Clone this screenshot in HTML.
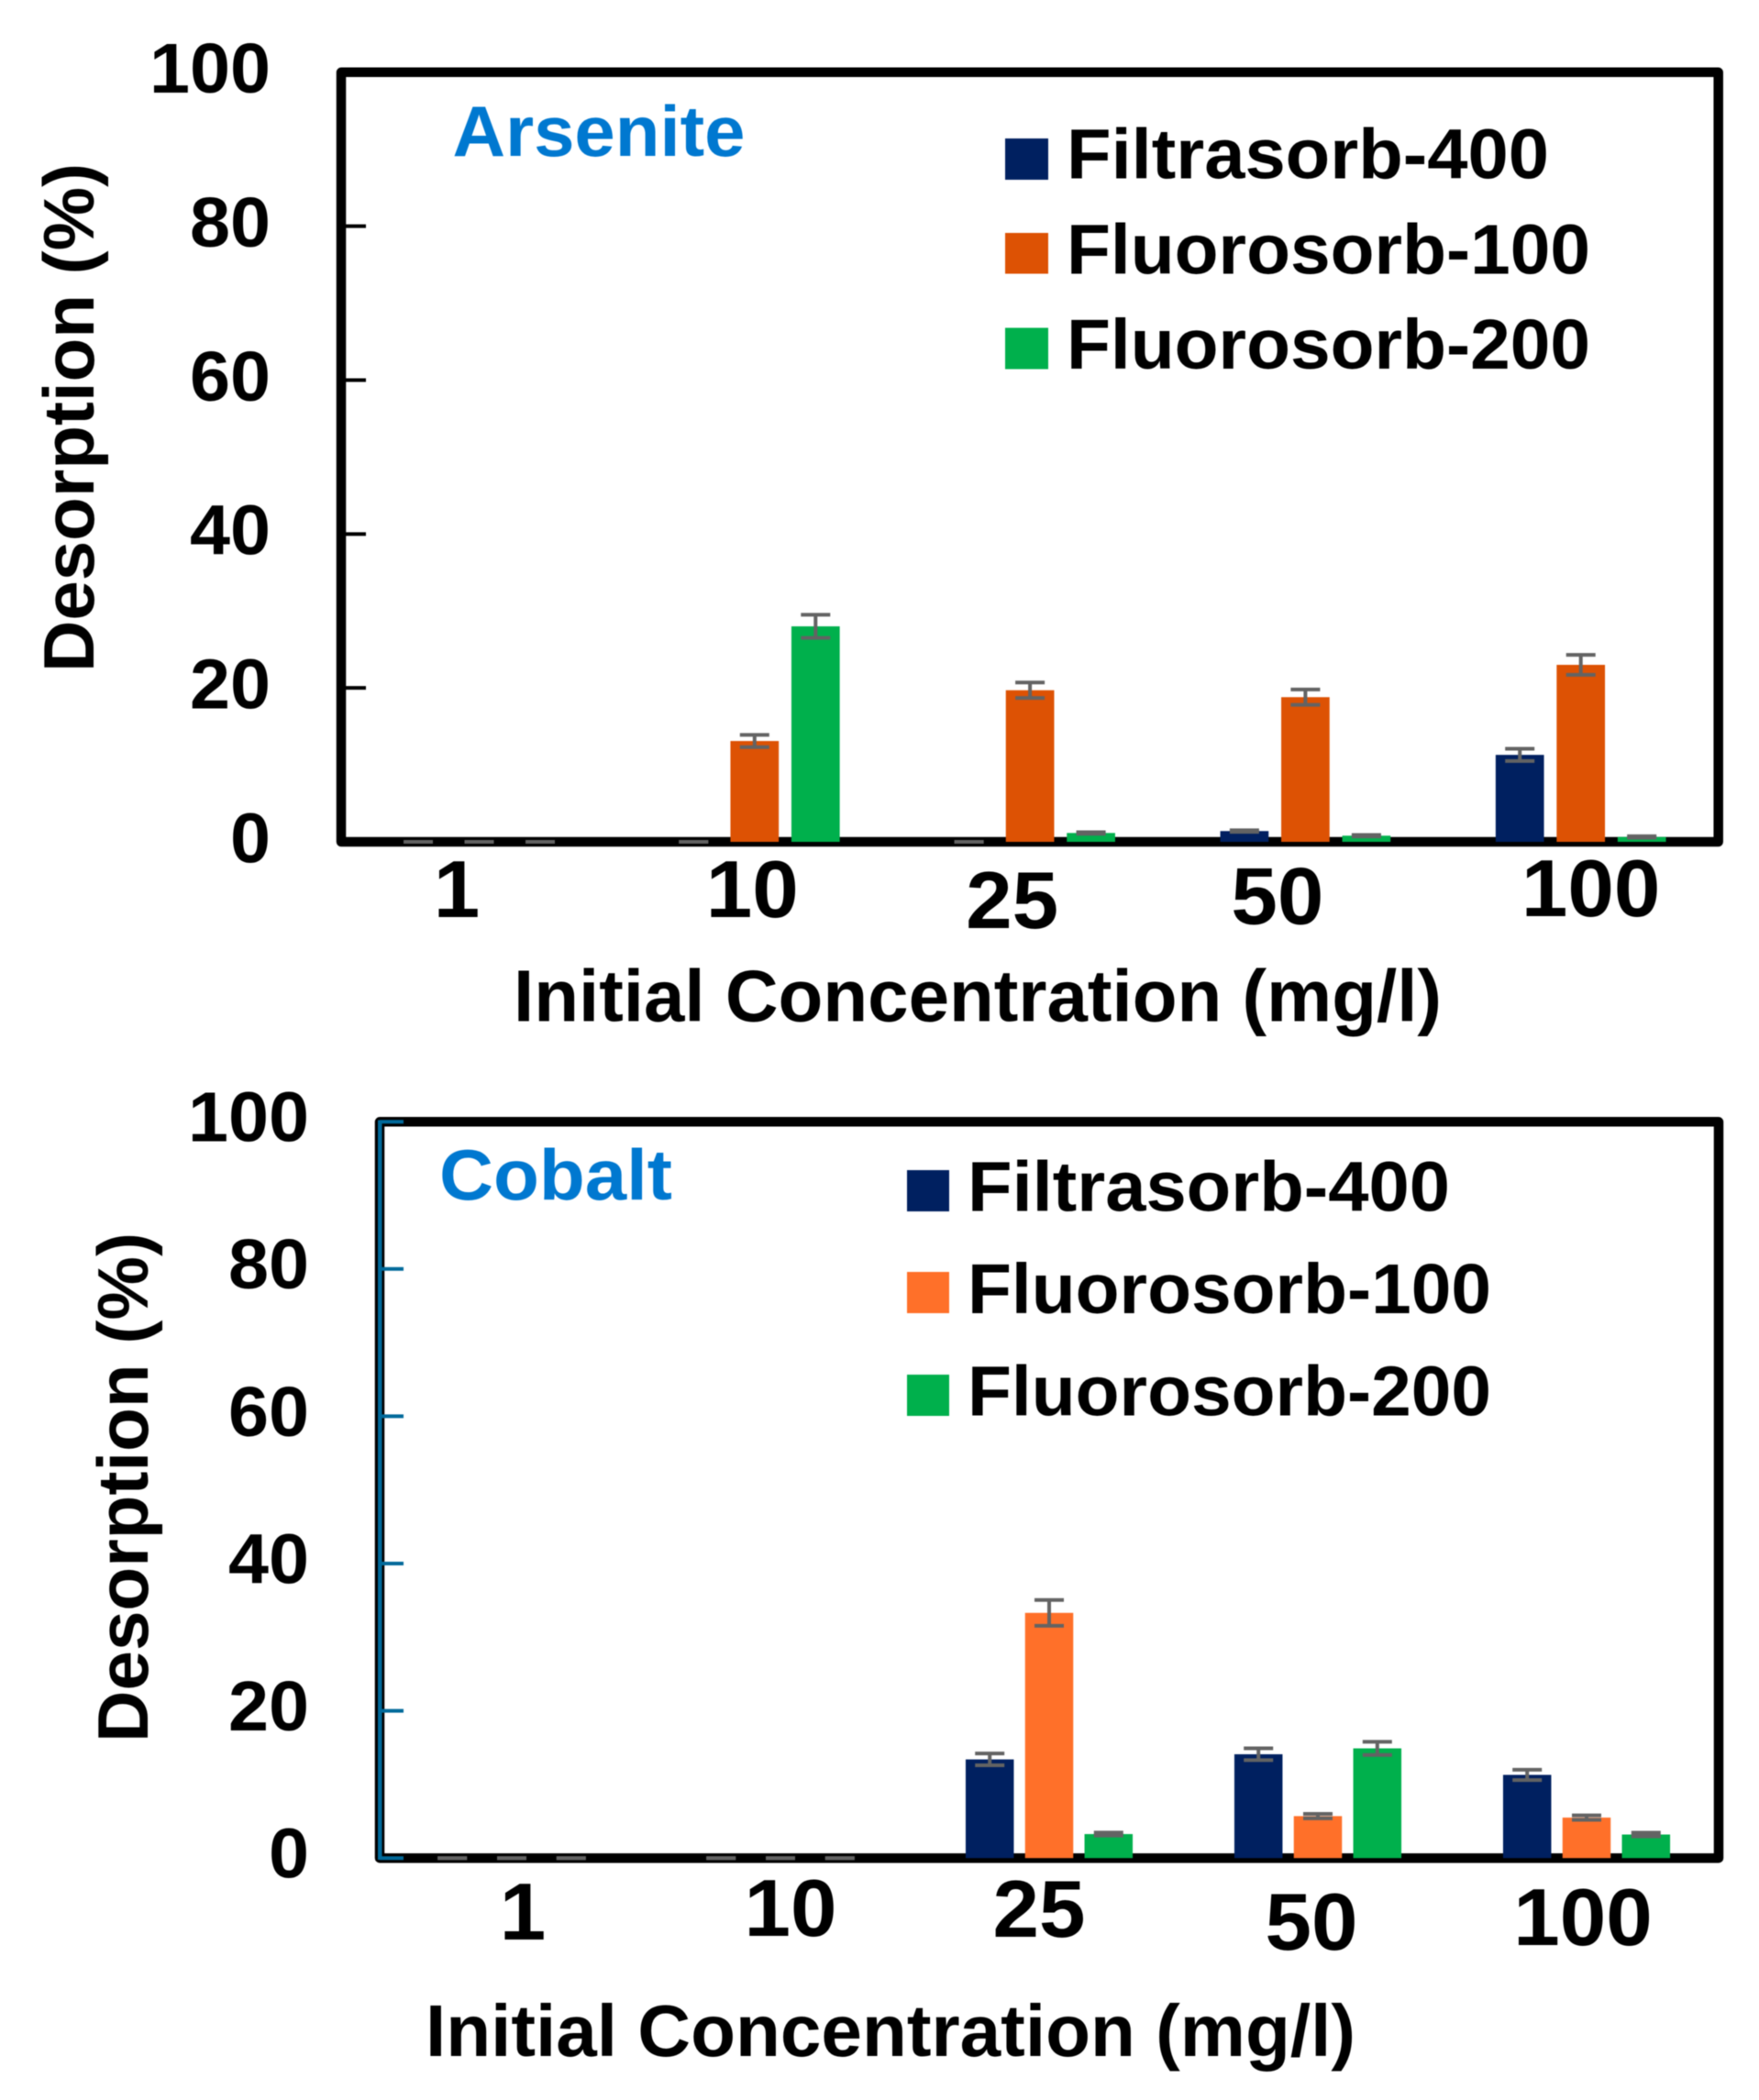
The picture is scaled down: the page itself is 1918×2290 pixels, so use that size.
<!DOCTYPE html>
<html lang="en">
<head>
<meta charset="utf-8">
<title>Desorption of Arsenite and Cobalt</title>
<style>
html,body{margin:0;padding:0;background:#fff;width:1918px;height:2290px;overflow:hidden}
svg{display:block;filter:blur(0.6px)}
text{font-family:"Liberation Sans",sans-serif;font-weight:700;fill:#000}
.panel-title{fill:#0078d0}
</style>
</head>
<body>
<svg id="figure" width="1918" height="2290" viewBox="0 0 1918 2290" xmlns="http://www.w3.org/2000/svg">
  <rect width="1918" height="2290" fill="#fff"/>

  <g id="arsenite-chart">
    <rect x="372" y="78.8" width="1501.7" height="839.2" fill="none" stroke="#000" stroke-width="10.5" stroke-linejoin="round"/>
    <text class="panel-title" x="493.5" y="170" font-size="78" textLength="319" lengthAdjust="spacingAndGlyphs">Arsenite</text>
    <text transform="translate(102,733) rotate(-90)" font-size="78" textLength="555" lengthAdjust="spacingAndGlyphs">Desorption (%)</text>
    <text x="560" y="1113.5" font-size="80" textLength="1012" lengthAdjust="spacingAndGlyphs">Initial Concentration (mg/l)</text>
    <g>
      <rect x="1096" y="151" width="47" height="45" fill="#002060"/>
      <text x="1163" y="194.5" font-size="77" textLength="526" lengthAdjust="spacingAndGlyphs">Filtrasorb-400</text>
      <rect x="1096" y="254" width="47" height="44.5" fill="#dd5204"/>
      <text x="1163" y="298.5" font-size="77" textLength="571" lengthAdjust="spacingAndGlyphs">Fluorosorb-100</text>
      <rect x="1096" y="357.5" width="47" height="45" fill="#00b04c"/>
      <text x="1163" y="402" font-size="77" textLength="571" lengthAdjust="spacingAndGlyphs">Fluorosorb-200</text>
    </g>
  </g>

  <g id="cobalt-chart">
    <path d="M414 1223.3H1874V2026.2H414Z" fill="none" stroke="#000" stroke-width="10.5" stroke-linejoin="round"/>
    <rect x="412" y="1221.5" width="4.5" height="806.5" fill="#00699a"/>
    <text class="panel-title" x="479" y="1308" font-size="78" textLength="254" lengthAdjust="spacingAndGlyphs">Cobalt</text>
    <text transform="translate(161,1900) rotate(-90)" font-size="78" textLength="556" lengthAdjust="spacingAndGlyphs">Desorption (%)</text>
    <text x="464" y="2242" font-size="80" textLength="1014" lengthAdjust="spacingAndGlyphs">Initial Concentration (mg/l)</text>
    <g>
      <rect x="989" y="1276" width="46" height="45" fill="#002060"/>
      <text x="1055" y="1320.5" font-size="77" textLength="526" lengthAdjust="spacingAndGlyphs">Filtrasorb-400</text>
      <rect x="989" y="1387" width="46" height="45" fill="#ff7029"/>
      <text x="1055" y="1432" font-size="77" textLength="571" lengthAdjust="spacingAndGlyphs">Fluorosorb-100</text>
      <rect x="989" y="1499" width="46" height="45" fill="#00b04c"/>
      <text x="1055" y="1543.5" font-size="77" textLength="571" lengthAdjust="spacingAndGlyphs">Fluorosorb-200</text>
    </g>
  </g>
</svg>

<script>
const categories = ['1', '10', '25', '50', '100'];
const yTickValues = [0, 20, 40, 60, 80, 100];
const seriesNames = ['filtrasorb-400', 'fluorosorb-100', 'fluorosorb-200'];

const arseniteFiltrasorb400 = [0, 0, 0, 1.4, 11.3];
const arseniteFluorosorb100 = [0, 13.1, 19.7, 18.8, 23];
const arseniteFluorosorb200 = [0, 28, 1.15, 0.8, 0.63];
const arseniteFiltrasorb400Err = [0, 0, 0, 0.1, 0.8];
const arseniteFluorosorb100Err = [0, 0.8, 1, 1, 1.3];
const arseniteFluorosorb200Err = [0, 1.5, 0.1, 0.1, 0.1];

const cobaltFiltrasorb400 = [0, 0, 13.4, 14.1, 11.3];
const cobaltFluorosorb100 = [0, 0, 33.3, 5.7, 5.5];
const cobaltFluorosorb200 = [0, 0, 3.26, 14.9, 3.2];
const cobaltFiltrasorb400Err = [0, 0, 0.8, 0.8, 0.7];
const cobaltFluorosorb100Err = [0, 0, 1.75, 0.3, 0.3];
const cobaltFluorosorb200Err = [0, 0, 0.2, 0.9, 0.25];

const SVGNS = 'http://www.w3.org/2000/svg';

function make(parent, tag, attrs, content) {
  const node = document.createElementNS(SVGNS, tag);
  for (const key in attrs) node.setAttribute(key, attrs[key]);
  if (content !== undefined) node.textContent = content;
  parent.appendChild(node);
  return node;
}

function drawChart(cfg) {
  const root = document.getElementById(cfg.id);
  const yScale = v => cfg.yZero - v * cfg.yUnit;
  const xScale = (i, s) => cfg.groupStart + i * cfg.groupStep + (s - 1) * cfg.barStep;

  yTickValues.forEach(v => {
    const tick = make(root, 'line', {x1: cfg.tickFrom, x2: cfg.tickTo, y1: yScale(v), y2: yScale(v), stroke: cfg.tickColor, 'stroke-width': 4});
    
    
    const str = String(v);
    const len = str.length * cfg.yDigit;
    const label = make(root, 'text', {x: cfg.yLabelRight - len, y: yScale(v) + cfg.yLabelDrop, 'font-size': 77, textLength: len, lengthAdjust: 'spacingAndGlyphs'}, str);
    
    
  });

  categories.forEach((cat, i) => {
    const len = cat.length * cfg.xDigit;
    const label = make(root, 'text', {x: cfg.groupStart + i * cfg.groupStep + cfg.xLabelShift[i] - len / 2, y: cfg.xLabelBaseline[i], 'font-size': 88, textLength: len, lengthAdjust: 'spacingAndGlyphs'}, cat);
    
    
  });

  cfg.series.forEach((values, s) => {
    values.forEach((v, i) => {
      const cx = xScale(i, s);
      if (v > 0) {
        const bar = make(root, 'rect', {x: cx - cfg.barWidth / 2, y: yScale(v), width: cfg.barWidth, height: cfg.yZero - yScale(v), fill: cfg.colors[s]});
        
        
      }
    });
  });

  cfg.errors.forEach((errs, s) => {
    errs.forEach((e, i) => {
      const cx = xScale(i, s);
      const v = cfg.series[s][i];
      const hi = yScale(v + e);
      const lo = yScale(v - e);
      const group = make(root, 'g', {stroke: '#636363', 'stroke-width': 4, fill: 'none'});
      
      
      make(group, 'line', {x1: cx, x2: cx, y1: hi, y2: lo});
      make(group, 'line', {x1: cx - 16, x2: cx + 16, y1: hi, y2: hi});
      make(group, 'line', {x1: cx - 16, x2: cx + 16, y1: lo, y2: lo});
    });
  });
}

drawChart({
  id: 'arsenite-chart',
  yZero: 918, yUnit: 8.392,
  groupStart: 522.5, groupStep: 300.3, barStep: 66.5, barWidth: 52.7,
  tickFrom: 372, tickTo: 399, tickColor: '#000',
  yLabelRight: 295, yLabelDrop: 22.4, yDigit: 44,
  xDigit: 50.5,
  xLabelShift: [-24.5, -2.5, -19.5, -30.5, 11],
  xLabelBaseline: [1000, 1000, 1012, 1007.5, 999],
  colors: ['#002060', '#dd5204', '#00b04c'],
  series: [arseniteFiltrasorb400, arseniteFluorosorb100, arseniteFluorosorb200],
  errors: [arseniteFiltrasorb400Err, arseniteFluorosorb100Err, arseniteFluorosorb200Err]
});

drawChart({
  id: 'cobalt-chart',
  yZero: 2026.2, yUnit: 8.03,
  groupStart: 558, groupStep: 293, barStep: 64.8, barWidth: 52.5,
  tickFrom: 414, tickTo: 440, tickColor: '#00699a',
  yLabelRight: 337, yLabelDrop: 21.4, yDigit: 44,
  xDigit: 50.5,
  xLabelShift: [12, 11, -11, -7, -4],
  xLabelBaseline: [2115, 2111, 2112, 2126, 2121],
  colors: ['#002060', '#ff7029', '#00b04c'],
  series: [cobaltFiltrasorb400, cobaltFluorosorb100, cobaltFluorosorb200],
  errors: [cobaltFiltrasorb400Err, cobaltFluorosorb100Err, cobaltFluorosorb200Err]
});
</script>
</body>
</html>
